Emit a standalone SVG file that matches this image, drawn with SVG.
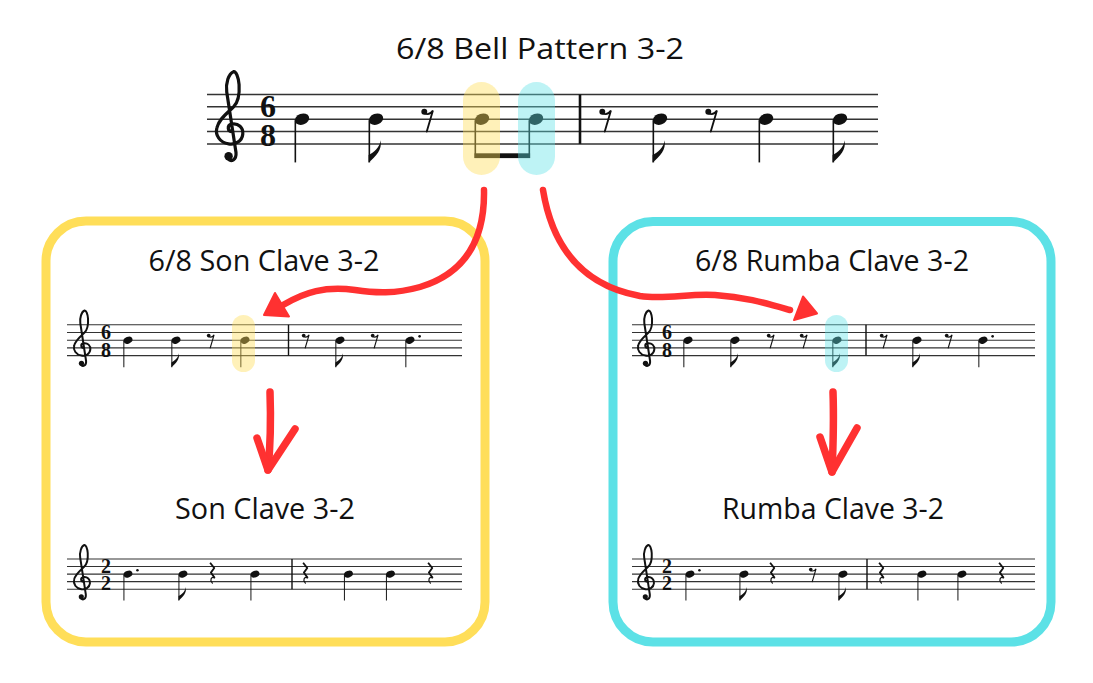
<svg xmlns="http://www.w3.org/2000/svg" xmlns:xlink="http://www.w3.org/1999/xlink" width="1093" height="683" viewBox="0 0 1093 683">
<style>
.title{font-family:"Open Sans","Noto Sans","Liberation Sans",sans-serif;font-size:29px;fill:#111;text-anchor:middle}
.ts{font-family:"Liberation Serif","DejaVu Serif",serif;font-weight:bold;fill:#111;writing-mode:vertical-rl;text-orientation:upright}
.stf{stroke:#333;fill:none}
.bar{stroke:#111}
.conn{fill:none;stroke:#FF3131;stroke-width:6.5;stroke-linecap:round;stroke-linejoin:round}
.conn2{fill:none;stroke:#FF3131;stroke-width:7.5;stroke-linecap:round;stroke-linejoin:round}
.hy{fill:#FFDE59;fill-opacity:0.42}
.hc{fill:#5CE1E6;fill-opacity:0.4}
</style>
<defs>
<g id="head"><ellipse rx="6" ry="4.4" transform="rotate(-20)" fill="#111"/></g>
<g id="q"><use href="#head"/><line x1="-5.4" y1="1" x2="-5.4" y2="35" stroke="#111" stroke-width="1.3"/></g>
<g id="e"><use href="#q"/><path d="M -6,35 C 0,30 5,25 3.8,17 C 3,23 -2,27 -6,29 Z" fill="#111"/></g>
<g id="dq"><use href="#q"/><circle cx="12.5" cy="-5" r="1.7" fill="#111"/></g>
<g id="er"><circle cx="-3" cy="-6" r="2.4" fill="#111"/><path d="M -3,-4.8 C -0.5,-3.5 2,-4 4,-7 L -1,10" fill="none" stroke="#111" stroke-width="1.5" stroke-linecap="round"/></g>
<g id="qr"><path d="M -2.5,-15 L 3,-8 L -1.5,-2 L 3.5,5" fill="none" stroke="#111" stroke-width="2.4" stroke-linejoin="round"/><path d="M 3.5,5 C -1,3 -3.5,8 0.5,12" fill="none" stroke="#111" stroke-width="1.6" stroke-linecap="round"/></g>
<g id="clef"><path d="M 14,30 C 10,30 9.5,25 13.5,24 C 19,23 23,27 22.5,32 C 22,38 16,41 11,40 C 4,39 0,33 1.5,27 C 3,20 10,15 15,10 C 19,6 20,0 19.5,-8 C 19,-14 17,-19 15,-18.5 C 11,-17 8.5,-9 9.5,-2 L 17,47 C 17.5,53 13,55 10.5,52" fill="none" stroke="#111" stroke-width="2.6" stroke-linecap="round" stroke-linejoin="round"/><circle cx="11" cy="50" r="3.4" fill="#111"/></g>
</defs>
<rect width="1093" height="683" fill="#fff"/>

<g id="bell-pattern">
<text class="title" x="540" y="59" textLength="288" lengthAdjust="spacingAndGlyphs">6/8 Bell Pattern 3-2</text>
<path class="stf" stroke-width="1.5" d="M207,94.5H878M207,106.85H878M207,119.2H878M207,131.55H878M207,143.9H878"/>
<use href="#clef" transform="translate(215,94.5) scale(1.235)"/>
<text class="ts" x="268" y="88" font-size="32" letter-spacing="-7">68</text>
<use href="#q" transform="translate(302,119.2) scale(1.235)"/>
<use href="#e" transform="translate(376,119.2) scale(1.235)"/>
<use href="#er" transform="translate(428,119.2) scale(1.235)"/>
<use href="#head" transform="translate(482,119.2) scale(1.235)"/>
<use href="#head" transform="translate(536,119.2) scale(1.235)"/>
<line x1="475.3" y1="120.5" x2="475.3" y2="158" stroke="#111" stroke-width="1.6"/>
<line x1="529.3" y1="120.5" x2="529.3" y2="158" stroke="#111" stroke-width="1.6"/>
<rect x="474.5" y="153.3" width="55.6" height="4.8" fill="#111"/>
<line class="bar" x1="580" y1="94.5" x2="580" y2="143.9" stroke-width="2.6"/>
<use href="#er" transform="translate(606,119.2) scale(1.235)"/>
<use href="#e" transform="translate(660,119.2) scale(1.235)"/>
<use href="#er" transform="translate(712,119.2) scale(1.235)"/>
<use href="#q" transform="translate(766,119.2) scale(1.235)"/>
<use href="#e" transform="translate(840,119.2) scale(1.235)"/>
<rect class="hy" x="463" y="82" width="37" height="93" rx="18.5"/>
<rect class="hc" x="518" y="82" width="37" height="93" rx="18.5"/>
</g>

<g id="son-box">
<rect x="46" y="221" width="439" height="421" rx="40" fill="none" stroke="#FFDE59" stroke-width="9"/>
<text class="title" x="264" y="271" textLength="231" lengthAdjust="spacingAndGlyphs">6/8 Son Clave 3-2</text>
<text class="title" x="265" y="519" textLength="180" lengthAdjust="spacingAndGlyphs">Son Clave 3-2</text>
</g>

<g id="son-68">
<path class="stf" stroke-width="1.1" d="M67,324.8H462M67,332.5H462M67,340.2H462M67,347.9H462M67,355.6H462"/>
<use href="#clef" transform="translate(73,324.8) scale(0.77)"/>
<text class="ts" x="106" y="321" font-size="20" letter-spacing="-4.5">68</text>
<use href="#q" transform="translate(128,340.2) scale(0.77)"/>
<use href="#e" transform="translate(176,340.2) scale(0.77)"/>
<use href="#er" transform="translate(211,340.2) scale(0.77)"/>
<use href="#q" transform="translate(245,340.2) scale(0.77)"/>
<line class="bar" x1="288.5" y1="324.8" x2="288.5" y2="355.6" stroke-width="1.4"/>
<use href="#er" transform="translate(306,340.2) scale(0.77)"/>
<use href="#e" transform="translate(340,340.2) scale(0.77)"/>
<use href="#er" transform="translate(375,340.2) scale(0.77)"/>
<use href="#dq" transform="translate(410,340.2) scale(0.77)"/>
<rect class="hy" x="232" y="315" width="23" height="57" rx="11.5"/>
</g>

<g id="son-22">
<path class="stf" stroke-width="1.1" d="M67,559H462M67,566.55H462M67,574.1H462M67,581.65H462M67,589.2H462"/>
<use href="#clef" transform="translate(73,559) scale(0.755)"/>
<text class="ts" x="106" y="555" font-size="20" letter-spacing="-5">22</text>
<use href="#dq" transform="translate(128,574.1) scale(0.755)"/>
<use href="#e" transform="translate(183,574.1) scale(0.755)"/>
<use href="#qr" transform="translate(212,574.1) scale(0.755)"/>
<use href="#q" transform="translate(255,574.1) scale(0.755)"/>
<line class="bar" x1="292" y1="559" x2="292" y2="589.2" stroke-width="1.4"/>
<use href="#qr" transform="translate(305,574.1) scale(0.755)"/>
<use href="#q" transform="translate(348.5,574.1) scale(0.755)"/>
<use href="#q" transform="translate(390.5,574.1) scale(0.755)"/>
<use href="#qr" transform="translate(430,574.1) scale(0.755)"/>
</g>

<g id="rumba-box">
<rect x="613" y="221.5" width="438" height="420.5" rx="40" fill="none" stroke="#5CE1E6" stroke-width="9"/>
<text class="title" x="832" y="271" textLength="274" lengthAdjust="spacingAndGlyphs">6/8 Rumba Clave 3-2</text>
<text class="title" x="833" y="519" textLength="222" lengthAdjust="spacingAndGlyphs">Rumba Clave 3-2</text>
</g>

<g id="rumba-68">
<path class="stf" stroke-width="1.1" d="M632,324.8H1035M632,332.5H1035M632,340.2H1035M632,347.9H1035M632,355.6H1035"/>
<use href="#clef" transform="translate(637,324.8) scale(0.77)"/>
<text class="ts" x="667" y="321" font-size="20" letter-spacing="-4.5">68</text>
<use href="#q" transform="translate(688,340.2) scale(0.77)"/>
<use href="#e" transform="translate(735,340.2) scale(0.77)"/>
<use href="#er" transform="translate(771,340.2) scale(0.77)"/>
<use href="#er" transform="translate(804,340.2) scale(0.77)"/>
<use href="#e" transform="translate(837,340.2) scale(0.77)"/>
<line class="bar" x1="866" y1="324.8" x2="866" y2="355.6" stroke-width="1.4"/>
<use href="#er" transform="translate(884,340.2) scale(0.77)"/>
<use href="#e" transform="translate(917,340.2) scale(0.77)"/>
<use href="#er" transform="translate(949,340.2) scale(0.77)"/>
<use href="#dq" transform="translate(983,340.2) scale(0.77)"/>
<rect class="hc" x="825" y="315" width="23" height="57" rx="11.5"/>
</g>

<g id="rumba-22">
<path class="stf" stroke-width="1.1" d="M632,559H1035M632,566.55H1035M632,574.1H1035M632,581.65H1035M632,589.2H1035"/>
<use href="#clef" transform="translate(637,559) scale(0.755)"/>
<text class="ts" x="667" y="555" font-size="20" letter-spacing="-5">22</text>
<use href="#dq" transform="translate(690,574.1) scale(0.755)"/>
<use href="#e" transform="translate(744,574.1) scale(0.755)"/>
<use href="#qr" transform="translate(772,574.1) scale(0.755)"/>
<use href="#er" transform="translate(813,574.1) scale(0.755)"/>
<use href="#e" transform="translate(843,574.1) scale(0.755)"/>
<line class="bar" x1="867" y1="559" x2="867" y2="589.2" stroke-width="1.4"/>
<use href="#qr" transform="translate(881,574.1) scale(0.755)"/>
<use href="#q" transform="translate(922,574.1) scale(0.755)"/>
<use href="#q" transform="translate(962,574.1) scale(0.755)"/>
<use href="#qr" transform="translate(1001,574.1) scale(0.755)"/>
</g>

<g id="connectors">
<path class="conn" d="M 484,190 C 485,245 460,275 420,287 C 395,294 375,293 355,290 C 325,286 305,292 283,305"/>
<polygon points="264,315 275,293 289,316.5" fill="#FF3131" stroke="#FF3131" stroke-width="2" stroke-linejoin="round"/>
<path class="conn" d="M 543,190 C 552,245 580,285 640,296 C 665,300 690,293 715,295 C 745,297 765,303 790,310"/>
<polygon points="817,313.5 803,296.5 794,320" fill="#FF3131" stroke="#FF3131" stroke-width="2" stroke-linejoin="round"/>
<path class="conn2" d="M 270,392 C 271,420 270,450 268,470"/>
<path class="conn2" d="M 257,438 L 268,470 L 295,429"/>
<path class="conn2" d="M 833,392 C 834,420 833,450 832,472"/>
<path class="conn2" d="M 820,437 L 832,472 L 857,428"/>
</g>
</svg>
